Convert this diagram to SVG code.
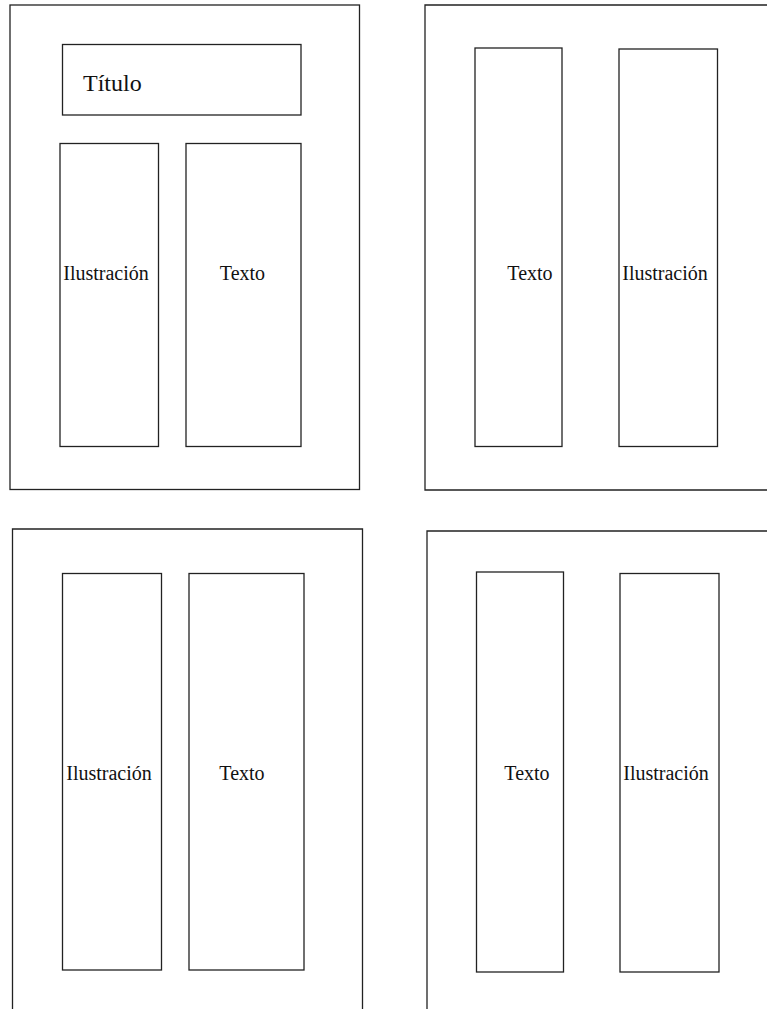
<svg xmlns="http://www.w3.org/2000/svg" width="767" height="1009" viewBox="0 0 767 1009">
<style>
.box{fill:none;stroke:#222;stroke-width:1.3}
.lbl{font-family:"Liberation Serif","Times New Roman",serif;font-size:20px;fill:#111;text-anchor:middle}
.ttl{font-family:"Liberation Serif","Times New Roman",serif;font-size:24px;fill:#111}
</style>
<rect width="767" height="1009" fill="#fff"/>
<g id="page1">
<rect class="box" x="10" y="5" width="349.5" height="484.5"/>
<g id="p1-title"><rect class="box" x="62.5" y="44.5" width="238.5" height="70.5"/><text class="ttl" x="83" y="91">Título</text></g>
<g id="p1-ilus"><rect class="box" x="60" y="143.5" width="98.5" height="303"/><text class="lbl" x="106" y="280">Ilustración</text></g>
<g id="p1-texto"><rect class="box" x="186" y="143.5" width="115" height="303"/><text class="lbl" x="242.5" y="280">Texto</text></g>
</g>
<g id="page2">
<path class="box" d="M767,5 H425 V490 H767"/>
<g id="p2-texto"><rect class="box" x="475" y="48" width="87" height="398.5"/><text class="lbl" x="530" y="280">Texto</text></g>
<g id="p2-ilus"><rect class="box" x="619" y="49" width="98.5" height="397.5"/><text class="lbl" x="665" y="280">Ilustración</text></g>
</g>
<g id="page3">
<path class="box" d="M12.5,1009 V529 H362.5 V1009"/>
<g id="p3-ilus"><rect class="box" x="62.5" y="573.5" width="99" height="396.5"/><text class="lbl" x="109" y="780">Ilustración</text></g>
<g id="p3-texto"><rect class="box" x="189" y="573.5" width="115" height="396.5"/><text class="lbl" x="242" y="780">Texto</text></g>
</g>
<g id="page4">
<path class="box" d="M427,1009 V531 H767"/>
<g id="p4-texto"><rect class="box" x="476.5" y="572" width="87" height="400"/><text class="lbl" x="527" y="780">Texto</text></g>
<g id="p4-ilus"><rect class="box" x="620" y="573.5" width="99" height="398.5"/><text class="lbl" x="666" y="780">Ilustración</text></g>
</g>
<g id="connectors"/>
</svg>
